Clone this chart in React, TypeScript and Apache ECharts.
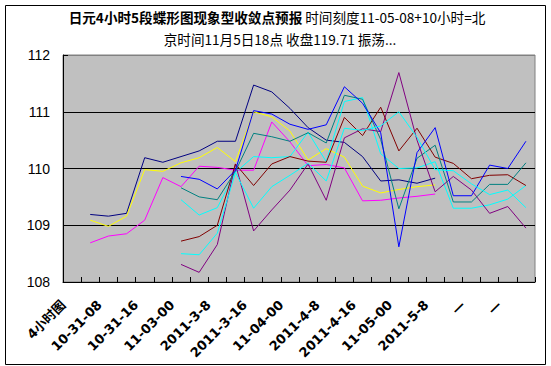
import React, { useEffect, useRef } from "react";
import * as echarts from "echarts";

const tickLabels = ["4小时图", "10-31-08", "10-31-16", "11-03-00", "2011-3-8", "2011-3-16", "11-04-00", "2011-4-8", "2011-4-16", "11-05-00", "2011-5-8", "—", "—"];
const categories: string[] = [];
tickLabels.forEach((t) => { categories.push(t); categories.push(""); });

const N = null;
const navy = [N, 109.19, 109.16, 109.21, 110.19, 110.11, 110.21, 110.31, 110.48, 110.48, 111.47, 111.35, 111.06, 110.72, 110.5, 110.46, 110.21, 109.78, 109.8, 109.74, 109.83, N, N, N, N, N];
const yellow = [N, 109.09, 108.98, 109.16, 109.98, 109.95, 110.1, 110.19, 110.37, 110.12, 111.0, 110.91, 110.66, 110.15, 110.35, 110.2, 109.69, 109.57, 109.63, 109.68, 109.71, N, N, N, N, N];
const magenta = [N, 108.69, 108.81, 108.85, 109.09, 109.84, 109.68, 110.04, 110.02, 109.97, 109.97, 110.82, 110.47, 110.05, 110.07, 110.01, 109.43, 109.44, 109.48, 109.51, 109.55, N, N, N, N, N];
const blue = [N, N, N, N, N, N, 109.86, 109.81, 109.64, 109.97, 111.02, 110.96, 110.78, 110.69, 110.77, 111.44, 111.15, 110.63, 108.62, 110.28, 110.72, 109.52, 109.52, 110.06, 110.0, 110.48];
const teal = [N, N, N, N, N, N, 109.66, 109.5, 109.45, 109.95, 110.62, 110.56, 110.48, 110.63, 110.45, 111.29, 111.22, 110.51, 109.29, 110.18, 110.41, 109.41, 109.41, 109.72, 109.72, 110.1];
const cyanA = [N, N, N, N, N, N, 109.45, 109.18, 109.31, 109.93, 110.21, 110.19, 110.21, 110.64, 110.12, 111.18, 111.25, 110.26, 110.0, 110.01, 110.12, 109.3, 109.3, 109.36, 109.46, 109.7];
const cyanB = [N, N, N, N, N, N, 108.5, 108.48, 108.86, 109.93, 109.3, 109.68, 109.88, 110.09, 109.78, 110.71, 110.67, 110.75, 111.0, 110.55, 109.98, 109.96, 109.73, 109.54, 109.62, 109.31];
const darkRed = [N, N, N, N, N, N, 108.72, 108.8, 109.0, 110.08, 109.7, 110.08, 110.21, 110.13, 110.11, 110.9, 110.58, 111.08, 110.31, 110.71, 110.2, 110.09, 109.82, 109.88, 109.89, 109.7];
const purple = [N, N, N, N, N, N, 108.31, 108.17, 108.66, 110.08, 108.9, 109.27, 109.62, 110.08, 109.44, 110.54, 110.7, 110.65, 111.69, 110.5, 109.59, 109.86, 109.62, 109.21, 109.33, 108.95];

const seriesList = [
  { name: "s1", data: navy, color: "#000080" },
  { name: "s2", data: magenta, color: "#FF00FF" },
  { name: "s3", data: yellow, color: "#FFFF00" },
  { name: "s4", data: cyanA, color: "#00FFFF" },
  { name: "s5", data: purple, color: "#800080" },
  { name: "s6", data: darkRed, color: "#800000" },
  { name: "s7", data: teal, color: "#008080" },
  { name: "s8", data: blue, color: "#0000FF" },
  { name: "s9", data: cyanB, color: "#00FFFF" },
];

const titleLine1Bold = "日元4小时5段蝶形图现象型收敛点预报";
const titleLine1Rest = "时间刻度11-05-08+10小时=北";
const titleLine2 = "京时间11月5日18点 收盘119.71 振荡...";

export default function App() {
  const ref = useRef<HTMLDivElement>(null);
  useEffect(() => {
    if (!ref.current) return;
    const chart = echarts.init(ref.current, undefined, { renderer: "svg" });
    const cjk = '"Noto Sans CJK SC", sans-serif';
    chart.setOption({
      animation: false,
      backgroundColor: "#FFFFFF",
      grid: {
        left: 63, top: 55, width: 472, height: 227,
        show: true, backgroundColor: "#C0C0C0", borderColor: "#808080", borderWidth: 1,
      },
      xAxis: {
        type: "category",
        data: categories,
        boundaryGap: true,
        axisLine: { show: true, onZero: false, lineStyle: { color: "#000", width: 1 } },
        axisTick: { show: true, inside: true, length: 5, interval: 0, lineStyle: { color: "#000" } },
        axisLabel: {
          interval: 1, rotate: 45, margin: 21, color: "#000", verticalAlign: "bottom",
          padding: [0, 6, 0, 0],
          fontSize: 13, fontWeight: "bold", fontFamily: '"DejaVu Sans", "Noto Sans CJK SC", sans-serif',
        },
        splitLine: { show: false },
      },
      yAxis: {
        type: "value", min: 108, max: 112, interval: 1,
        axisLine: { show: true, lineStyle: { color: "#000", width: 1 } },
        axisTick: { show: true, inside: true, length: 5, lineStyle: { color: "#000" } },
        axisLabel: { margin: 13, color: "#000", fontSize: 14, fontFamily: '"Liberation Sans", Arial, sans-serif' },
        splitLine: { show: true, lineStyle: { color: ["#000", "#000", "#000", "#000", "#808080"], width: 1 } },
      },
      series: seriesList.map((s) => ({
        name: s.name,
        type: "line",
        data: s.data,
        symbol: "none",
        connectNulls: false,
        lineStyle: { color: s.color, width: 1 },
        itemStyle: { color: s.color },
      })),
      graphic: [
        {
          type: "rect",
          shape: { x: 5.5, y: 5.5, width: 540, height: 359 },
          style: { fill: "none", stroke: "#000", lineWidth: 1 },
          silent: true,
        },
        {
          type: "text",
          x: 277, y: 17,
          style: {
            text: `{b|${titleLine1Bold}}{n| ${titleLine1Rest}}`,
            rich: {
              b: { fontFamily: cjk, fontSize: 13.6, fontWeight: "bold", fill: "#000" },
              n: { fontFamily: cjk, fontSize: 13.6, fill: "#000" },
            },
            fill: "#000",
            align: "center", verticalAlign: "middle",
            textAlign: "center", textVerticalAlign: "middle",
          },
        },
        {
          type: "text",
          x: 280, y: 39,
          style: {
            text: titleLine2,
            font: `13.6px ${cjk}`,
            fill: "#000",
            align: "center", verticalAlign: "middle",
            textAlign: "center", textVerticalAlign: "middle",
          },
        },
      ],
    });
    return () => chart.dispose();
  }, []);
  return <div ref={ref} style={{ position: "absolute", left: 0, top: 0, width: 551, height: 366 }} />;
}
